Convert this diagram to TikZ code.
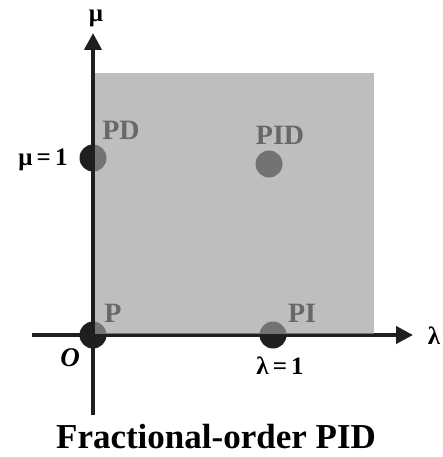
\documentclass[tikz,border=0pt]{standalone}
\usepackage{fontspec}
\setmainfont{Liberation Serif}
\usetikzlibrary{arrows.meta}
\definecolor{rectgray}{RGB}{157,157,157}
\tikzset{
  axis/.style={line width=4pt, black!88, -{Triangle[length=17pt,width=17pt]}},
  dot/.style={circle, fill=black!88, minimum size=27pt, inner sep=0pt},
  lab/.style={font=\fontsize{28}{28}\selectfont\bfseries, inner sep=0pt},
  alab/.style={font=\fontsize{25}{25}\selectfont\bfseries, inner sep=0pt},
  region/.style={fill=rectgray, fill opacity=0.667},
}
\begin{document}
\begin{tikzpicture}[x=1pt,y=-1pt]
\useasboundingbox (0,0) rectangle (443,457);
\coordinate (vb) at (93,415);
\coordinate (vt) at (93,33);
\coordinate (hl) at (32,335);
\coordinate (hr) at (413,335);
\draw[axis] (vb) -- (vt);
\draw[axis] (hl) -- (hr);
\node[dot] (p) at (93,335) {};
\node[dot] (pd) at (93,158) {};
\node[dot] (pid) at (269,164) {};
\node[dot] (pi) at (273,335) {};
\node[lab] (lp) at (113,313) {P};
\node[lab] (lpd) at (121,130) {PD};
\node[lab] (lpid) at (280,135) {PID};
\node[lab] (lpi) at (302,313) {PI};
\fill[region] (95,73) rectangle (374,334);
\node[alab] (mu) at (96,18) {μ};
\node[alab] (lam) at (434,336) {λ};
\node[alab] (mu1) at (43,160) {μ\,=\,1};
\node[alab] (lam1) at (280,366) {λ\,=\,1};
\node[alab, font=\fontsize{27}{27}\selectfont\bfseries\itshape] (o) at (70,358) {O};
\node[inner sep=0pt, font=\fontsize{35}{35}\selectfont\bfseries] (title) at (216,437) {Fractional-order PID};
\end{tikzpicture}
\end{document}
